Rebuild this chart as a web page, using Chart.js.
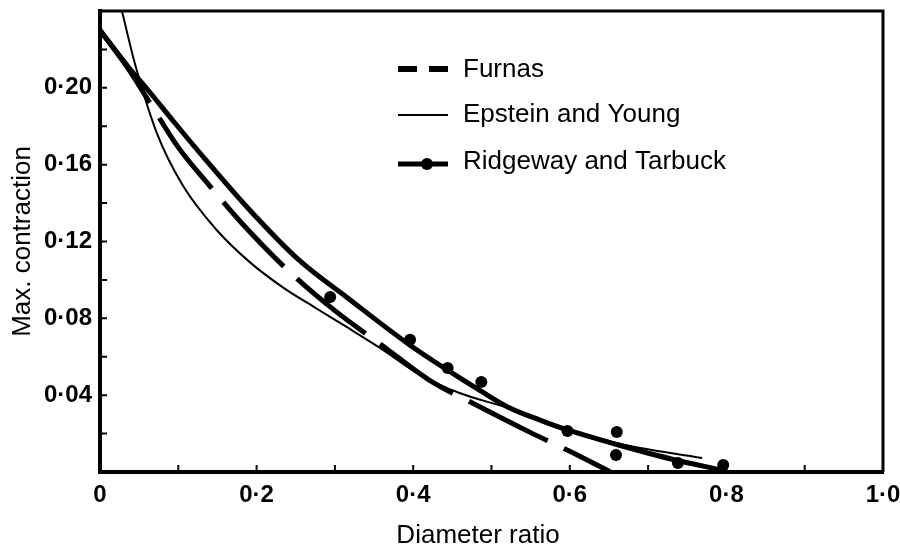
<!DOCTYPE html>
<html>
<head>
<meta charset="utf-8">
<script src="https://cdn.jsdelivr.net/npm/chart.js@4.4.0/dist/chart.umd.min.js"></script>
<style>
  body { margin: 0; background: #fff; }
  canvas { display: block; }
</style>
</head>
<body>
<canvas id="grafico" width="900" height="549"></canvas>
<script>
// valores
var xTicks = [0, 0.2, 0.4, 0.6, 0.8, 1.0];
var xTickLabels = ["0", "0·2", "0·4", "0·6", "0·8", "1·0"];
var yTicks = [0.04, 0.08, 0.12, 0.16, 0.20];
var yTickLabels = ["0·04", "0·08", "0·12", "0·16", "0·20"];

var seriesNames = ["Furnas", "Epstein and Young", "Ridgeway and Tarbuck"];

var furnasX = [0, 0.036, 0.064, 0.10, 0.14, 0.18, 0.24, 0.30, 0.36, 0.42, 0.48, 0.55, 0.60, 0.652];
var furnasY = [0.230, 0.210, 0.192, 0.169, 0.149, 0.130, 0.105, 0.084, 0.066, 0.048, 0.035, 0.0205, 0.0108, 0];

var epsteinX = [0.028, 0.045, 0.073, 0.106, 0.149, 0.192, 0.234, 0.277, 0.315, 0.358, 0.409, 0.460, 0.520, 0.596, 0.660, 0.769];
var epsteinY = [0.240, 0.212, 0.176, 0.149, 0.126, 0.109, 0.096, 0.085, 0.0755, 0.0645, 0.0505, 0.041, 0.0335, 0.0225, 0.0150, 0.0073];

var ridgewayX = [0, 0.036, 0.061, 0.093, 0.134, 0.192, 0.255, 0.315, 0.396, 0.444, 0.485, 0.520, 0.562, 0.596, 0.660, 0.732, 0.792];
var ridgewayY = [0.230, 0.211, 0.199, 0.183, 0.163, 0.136, 0.110, 0.091, 0.066, 0.053, 0.0425, 0.034, 0.027, 0.022, 0.0143, 0.0065, 0.0012];

// puntos experimentales
var puntosX = [0.294, 0.396, 0.444, 0.487, 0.597, 0.660, 0.659, 0.738, 0.796];
var puntosY = [0.0911, 0.0688, 0.0542, 0.0469, 0.0214, 0.0208, 0.0089, 0.0047, 0.0036];

function pares(xs, ys) {
  return xs.map(function (x, i) { return { x: x, y: ys[i] }; });
}

var fuenteTicks = { family: "Liberation Sans", size: 24, weight: "bold" };

// marco, marcas interiores, leyenda y titulo del eje x
var extras = {
  id: "extras",
  afterDraw: function (chart) {
    var ctx = chart.ctx;
    var a = chart.chartArea;
    var sx = chart.scales.x, sy = chart.scales.y;
    ctx.save();
    ctx.strokeStyle = "#000";
    ctx.lineWidth = 3;
    ctx.beginPath();
    ctx.moveTo(a.left, a.top);
    ctx.lineTo(a.right, a.top);
    ctx.lineTo(a.right, a.bottom);
    ctx.stroke();

    // marcas hacia dentro
    ctx.lineWidth = 2;
    ctx.beginPath();
    for (var i = 1; i <= 11; i++) {
      var py = sy.getPixelForValue(i * 0.02);
      ctx.moveTo(a.left, py);
      ctx.lineTo(a.left + 7, py);
    }
    for (var j = 1; j <= 9; j++) {
      var px = sx.getPixelForValue(j * 0.1);
      ctx.moveTo(px, a.bottom);
      ctx.lineTo(px, a.bottom - 7);
    }
    ctx.stroke();

    // leyenda
    var lx0 = 398, lx1 = 448;
    ctx.lineWidth = 6;
    ctx.setLineDash([19, 12]);
    ctx.beginPath();
    ctx.moveTo(lx0, 69);
    ctx.lineTo(lx1, 69);
    ctx.stroke();
    ctx.setLineDash([]);
    ctx.lineWidth = 2;
    ctx.beginPath();
    ctx.moveTo(lx0, 115);
    ctx.lineTo(lx1, 115);
    ctx.stroke();
    ctx.lineWidth = 5;
    ctx.beginPath();
    ctx.moveTo(lx0, 164);
    ctx.lineTo(lx1, 164);
    ctx.stroke();
    ctx.fillStyle = "#000";
    ctx.beginPath();
    ctx.arc(427, 164, 6, 0, Math.PI * 2);
    ctx.fill();

    ctx.font = "26px 'Liberation Sans'";
    ctx.textBaseline = "alphabetic";
    ctx.textAlign = "left";
    ctx.fillText(seriesNames[0], 463, 77);
    ctx.fillText(seriesNames[1], 463, 122);
    ctx.fillText(seriesNames[2], 463, 169);

    ctx.textAlign = "center";
    ctx.fillText("Diameter ratio", 478, 543);
    ctx.restore();
  }
};

var myChart = new Chart(document.getElementById("grafico").getContext("2d"), {
  type: "scatter",
  data: {
    datasets: [
      {
        label: seriesNames[1],
        data: pares(epsteinX, epsteinY),
        showLine: true,
        borderColor: "#000",
        borderWidth: 2,
        pointRadius: 0,
        cubicInterpolationMode: "monotone"
      },
      {
        label: seriesNames[0],
        data: pares(furnasX, furnasY),
        showLine: true,
        borderColor: "#000",
        borderWidth: 5,
        borderDash: [88, 18],
        pointRadius: 0,
        cubicInterpolationMode: "monotone"
      },
      {
        label: seriesNames[2],
        data: pares(ridgewayX, ridgewayY),
        showLine: true,
        borderColor: "#000",
        borderWidth: 5,
        pointRadius: 0,
        cubicInterpolationMode: "monotone"
      },
      {
        label: seriesNames[2] + " (datos)",
        data: pares(puntosX, puntosY),
        showLine: false,
        pointRadius: 6,
        pointBackgroundColor: "#000",
        pointBorderWidth: 0
      }
    ]
  },
  options: {
    responsive: false,
    animation: false,
    layout: { padding: { top: 11, right: 17, left: 0, bottom: 0 } },
    plugins: { legend: { display: false }, tooltip: { enabled: false } },
    scales: {
      x: {
        type: "linear",
        min: 0,
        max: 1,
        grid: { display: false, drawTicks: false },
        border: { display: true, width: 4, color: "#000" },
        afterBuildTicks: function (s) { s.ticks = xTicks.map(function (v) { return { value: v }; }); },
        afterFit: function (s) {
          s.height = 77;
          s.paddingLeft = 0;
          s.paddingRight = 0;
        },
        ticks: {
          color: "#000",
          font: fuenteTicks,
          padding: 9,
          maxRotation: 0,
          callback: function (v, i) { return xTickLabels[i]; }
        }
      },
      y: {
        type: "linear",
        min: 0,
        max: 0.24,
        grid: { display: false, drawTicks: false },
        border: { display: true, width: 4, color: "#000" },
        afterBuildTicks: function (s) { s.ticks = yTicks.map(function (v) { return { value: v }; }); },
        afterFit: function (s) {
          s.width = 100;
          s.paddingTop = 0;
          s.paddingBottom = 0;
        },
        title: {
          display: true,
          text: "Max. contraction",
          color: "#000",
          font: { family: "Liberation Sans", size: 26 },
          padding: { top: 7, bottom: 0 }
        },
        ticks: {
          color: "#000",
          font: fuenteTicks,
          padding: 8,
          callback: function (v, i) { return yTickLabels[i]; }
        }
      }
    }
  },
  plugins: [extras]
});
</script>
</body>
</html>
